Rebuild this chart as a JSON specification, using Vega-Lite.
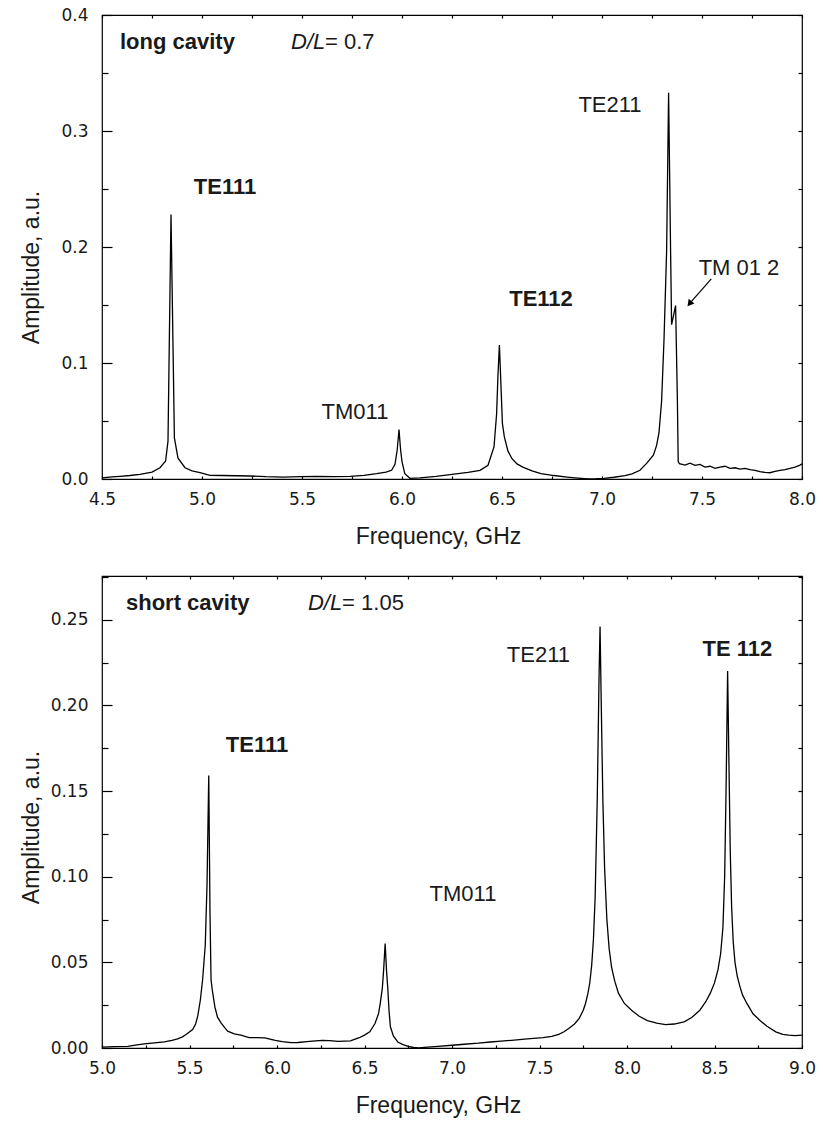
{
  "$schema": "https://vega.github.io/schema/vega-lite/v6.json",
  "padding": {"left": 19, "top": 5, "right": 5, "bottom": 5},
  "background": "white",
  "spacing": 18,
  "datasets": {
    "top": [
      {"f":4.50,"a":0.001},{"f":4.55,"a":0.0018},{"f":4.59,"a":0.0023},{"f":4.64,"a":0.003},{"f":4.69,"a":0.004},{"f":4.75,"a":0.006},{"f":4.79,"a":0.0097},{"f":4.818,"a":0.0155},{"f":4.83,"a":0.0326},{"f":4.845,"a":0.228},{"f":4.862,"a":0.0355},{"f":4.88,"a":0.018},{"f":4.915,"a":0.0097},{"f":4.95,"a":0.007},{"f":4.99,"a":0.0054},{"f":5.04,"a":0.0031},{"f":5.10,"a":0.003},{"f":5.17,"a":0.0028},{"f":5.24,"a":0.0026},{"f":5.32,"a":0.002},{"f":5.405,"a":0.0017},{"f":5.49,"a":0.002},{"f":5.573,"a":0.0023},{"f":5.66,"a":0.0021},{"f":5.74,"a":0.0023},{"f":5.81,"a":0.0032},{"f":5.873,"a":0.0046},{"f":5.92,"a":0.006},{"f":5.948,"a":0.0075},{"f":5.965,"a":0.0126},{"f":5.976,"a":0.025},{"f":5.985,"a":0.0427},{"f":5.993,"a":0.025},{"f":6.0,"a":0.015},{"f":6.014,"a":0.0046},{"f":6.04,"a":0.0006},{"f":6.09,"a":0.001},{"f":6.17,"a":0.0023},{"f":6.25,"a":0.004},{"f":6.33,"a":0.0057},{"f":6.39,"a":0.0075},{"f":6.43,"a":0.0118},{"f":6.46,"a":0.0276},{"f":6.473,"a":0.056},{"f":6.48,"a":0.09},{"f":6.487,"a":0.1155},{"f":6.495,"a":0.08},{"f":6.502,"a":0.048},{"f":6.512,"a":0.036},{"f":6.53,"a":0.024},{"f":6.55,"a":0.0175},{"f":6.575,"a":0.013},{"f":6.604,"a":0.0103},{"f":6.65,"a":0.007},{"f":6.695,"a":0.0046},{"f":6.76,"a":0.003},{"f":6.826,"a":0.0017},{"f":6.88,"a":0.0008},{"f":6.93,"a":0.0},{"f":6.97,"a":0.0002},{"f":7.01,"a":0.0006},{"f":7.06,"a":0.0015},{"f":7.115,"a":0.003},{"f":7.15,"a":0.0045},{"f":7.19,"a":0.0075},{"f":7.223,"a":0.0135},{"f":7.257,"a":0.0206},{"f":7.273,"a":0.029},{"f":7.285,"a":0.04},{"f":7.298,"a":0.067},{"f":7.31,"a":0.12},{"f":7.323,"a":0.196},{"f":7.333,"a":0.333},{"f":7.343,"a":0.196},{"f":7.348,"a":0.133},{"f":7.368,"a":0.1495},{"f":7.377,"a":0.067},{"f":7.381,"a":0.015},{"f":7.387,"a":0.0132},{"f":7.415,"a":0.012},{"f":7.44,"a":0.0137},{"f":7.465,"a":0.0117},{"f":7.49,"a":0.0126},{"f":7.515,"a":0.0103},{"f":7.54,"a":0.011},{"f":7.565,"a":0.0092},{"f":7.59,"a":0.0103},{"f":7.615,"a":0.011},{"f":7.64,"a":0.0092},{"f":7.665,"a":0.0097},{"f":7.69,"a":0.0086},{"f":7.715,"a":0.0092},{"f":7.74,"a":0.008},{"f":7.765,"a":0.0074},{"f":7.79,"a":0.0063},{"f":7.815,"a":0.0057},{"f":7.84,"a":0.0054},{"f":7.865,"a":0.0066},{"f":7.89,"a":0.0074},{"f":7.915,"a":0.008},{"f":7.94,"a":0.0092},{"f":7.965,"a":0.0103},{"f":7.99,"a":0.012},{"f":8.0,"a":0.013}
    ],
    "bottom": [
      {"f":5.0,"a":0.0005},{"f":5.07,"a":0.0008},{"f":5.147,"a":0.001},{"f":5.2,"a":0.0018},{"f":5.242,"a":0.0024},{"f":5.3,"a":0.003},{"f":5.356,"a":0.0036},{"f":5.4,"a":0.0045},{"f":5.432,"a":0.0053},{"f":5.46,"a":0.0065},{"f":5.48,"a":0.0079},{"f":5.518,"a":0.0108},{"f":5.535,"a":0.014},{"f":5.547,"a":0.0186},{"f":5.562,"a":0.028},{"f":5.575,"a":0.04},{"f":5.59,"a":0.06},{"f":5.60,"a":0.095},{"f":5.61,"a":0.159},{"f":5.617,"a":0.08},{"f":5.623,"a":0.04},{"f":5.63,"a":0.034},{"f":5.645,"a":0.024},{"f":5.66,"a":0.018},{"f":5.68,"a":0.0147},{"f":5.70,"a":0.012},{"f":5.718,"a":0.0098},{"f":5.756,"a":0.0083},{"f":5.794,"a":0.0075},{"f":5.84,"a":0.006},{"f":5.88,"a":0.006},{"f":5.93,"a":0.0059},{"f":5.96,"a":0.0052},{"f":5.99,"a":0.0045},{"f":6.03,"a":0.0037},{"f":6.08,"a":0.0031},{"f":6.12,"a":0.0032},{"f":6.17,"a":0.0037},{"f":6.22,"a":0.0042},{"f":6.26,"a":0.0045},{"f":6.30,"a":0.0043},{"f":6.35,"a":0.0039},{"f":6.42,"a":0.0041},{"f":6.47,"a":0.006},{"f":6.50,"a":0.0075},{"f":6.53,"a":0.0094},{"f":6.56,"a":0.0143},{"f":6.58,"a":0.02},{"f":6.59,"a":0.026},{"f":6.602,"a":0.035},{"f":6.609,"a":0.045},{"f":6.618,"a":0.061},{"f":6.626,"a":0.045},{"f":6.633,"a":0.035},{"f":6.64,"a":0.022},{"f":6.648,"a":0.0124},{"f":6.665,"a":0.007},{"f":6.69,"a":0.0035},{"f":6.72,"a":0.002},{"f":6.75,"a":0.001},{"f":6.78,"a":0.0003},{"f":6.81,"a":0.0},{"f":6.86,"a":0.0005},{"f":6.92,"a":0.001},{"f":7.0,"a":0.0016},{"f":7.07,"a":0.0022},{"f":7.15,"a":0.0028},{"f":7.22,"a":0.0035},{"f":7.28,"a":0.004},{"f":7.34,"a":0.0045},{"f":7.43,"a":0.0053},{"f":7.52,"a":0.006},{"f":7.57,"a":0.0068},{"f":7.61,"a":0.008},{"f":7.64,"a":0.0095},{"f":7.667,"a":0.0114},{"f":7.70,"a":0.014},{"f":7.727,"a":0.0173},{"f":7.75,"a":0.022},{"f":7.763,"a":0.026},{"f":7.777,"a":0.032},{"f":7.787,"a":0.0378},{"f":7.798,"a":0.048},{"f":7.808,"a":0.063},{"f":7.818,"a":0.088},{"f":7.83,"a":0.145},{"f":7.84,"a":0.215},{"f":7.846,"a":0.246},{"f":7.853,"a":0.2},{"f":7.862,"a":0.145},{"f":7.872,"a":0.105},{"f":7.885,"a":0.075},{"f":7.898,"a":0.058},{"f":7.912,"a":0.047},{"f":7.93,"a":0.039},{"f":7.951,"a":0.032},{"f":7.985,"a":0.026},{"f":8.026,"a":0.022},{"f":8.07,"a":0.0185},{"f":8.116,"a":0.016},{"f":8.17,"a":0.0145},{"f":8.22,"a":0.0137},{"f":8.27,"a":0.014},{"f":8.326,"a":0.0153},{"f":8.37,"a":0.0178},{"f":8.416,"a":0.022},{"f":8.45,"a":0.027},{"f":8.476,"a":0.032},{"f":8.50,"a":0.038},{"f":8.52,"a":0.0457},{"f":8.535,"a":0.055},{"f":8.548,"a":0.07},{"f":8.558,"a":0.1},{"f":8.566,"a":0.15},{"f":8.575,"a":0.22},{"f":8.582,"a":0.17},{"f":8.59,"a":0.115},{"f":8.598,"a":0.082},{"f":8.607,"a":0.062},{"f":8.617,"a":0.05},{"f":8.63,"a":0.042},{"f":8.645,"a":0.036},{"f":8.66,"a":0.031},{"f":8.685,"a":0.026},{"f":8.72,"a":0.02},{"f":8.76,"a":0.016},{"f":8.80,"a":0.0127},{"f":8.85,"a":0.0094},{"f":8.89,"a":0.008},{"f":8.925,"a":0.0075},{"f":8.96,"a":0.0072},{"f":9.0,"a":0.0075}
    ],
    "topText": [
      {"x":4.59,"y":0.377,"t":"long cavity","k":"bl"},
      {"x":5.445,"y":0.377,"t":"D/L","k":"il"},
      {"x":5.615,"y":0.377,"t":"= 0.7","k":"nl"},
      {"x":5.115,"y":0.252,"t":"TE111","k":"bc"},
      {"x":6.695,"y":0.1555,"t":"TE112","k":"bc"},
      {"x":5.765,"y":0.058,"t":"TM011","k":"nc"},
      {"x":7.04,"y":0.322,"t":"TE211","k":"nc"},
      {"x":7.685,"y":0.182,"t":"TM 01 2","k":"nc"}
    ],
    "bottomText": [
      {"x":5.137,"y":0.26,"t":"short cavity","k":"bl"},
      {"x":6.177,"y":0.26,"t":"D/L","k":"il"},
      {"x":6.372,"y":0.26,"t":"= 1.05","k":"nl"},
      {"x":5.886,"y":0.177,"t":"TE111","k":"bc"},
      {"x":8.631,"y":0.233,"t":"TE 112","k":"bc"},
      {"x":7.063,"y":0.0896,"t":"TM011","k":"nc"},
      {"x":7.494,"y":0.2296,"t":"TE211","k":"nc"}
    ],
    "arrow": [
      {"x":7.5465,"y":0.1725,"x2":7.441,"y2":0.1519}
    ]
  },
  "vconcat": [
    {
      "width": 700,
      "height": 464,
      "layer": [
        {
          "data": {"name": "top"},
          "mark": {"type": "line", "color": "black", "strokeWidth": 1.3},
          "encoding": {
            "x": {"field": "f", "type": "quantitative", "scale": {"domain": [4.5, 8.0], "nice": false, "zero": false},
              "axis": {"orient": "bottom", "values": [4.5,4.75,5,5.25,5.5,5.75,6,6.25,6.5,6.75,7,7.25,7.5,7.75,8],
                "labelExpr": "abs(datum.value*2-round(datum.value*2))<0.01 ? format(datum.value,'.1f') : ''",
                "tickSize": -3, "labelPadding": 15, "title": "Frequency, GHz",
                "titleX": 336, "titleY": 57, "titleAlign": "center", "titleBaseline": "middle"}},
            "y": {"field": "a", "type": "quantitative", "scale": {"domain": [0, 0.4], "nice": false},
              "axis": {"orient": "left", "values": [0,0.05,0.1,0.15,0.2,0.25,0.3,0.35,0.4],
                "labelExpr": "abs(datum.value*10-round(datum.value*10))<0.001 ? format(datum.value,'.1f') : ''",
                "tickSize": {"condition": {"test": "abs(datum.value*10-round(datum.value*10))<0.001", "value": -10}, "value": -6},
                "labelPadding": 24, "title": "Amplitude, a.u.",
                "titleX": -71, "titleY": 252, "titleAlign": "center", "titleBaseline": "middle", "titleAngle": -90}}
          }
        },
        {
          "data": {"name": "arrow"},
          "mark": {"type": "rule", "color": "black", "strokeWidth": 1.2},
          "encoding": {
            "x": {"field": "x", "type": "quantitative", "scale": {"domain": [4.5, 8.0], "nice": false, "zero": false}, "axis": null},
            "y": {"field": "y", "type": "quantitative", "scale": {"domain": [0, 0.4], "nice": false}, "axis": null},
            "x2": {"field": "x2"},
            "y2": {"field": "y2"}
          }
        },
        {
          "data": {"name": "arrow"},
          "mark": {"type": "point", "shape": "triangle", "angle": 218.7, "size": 55, "filled": true, "color": "black", "opacity": 1},
          "encoding": {
            "x": {"field": "x2", "type": "quantitative", "scale": {"domain": [4.5, 8.0], "nice": false, "zero": false}, "axis": null},
            "y": {"field": "y2", "type": "quantitative", "scale": {"domain": [0, 0.4], "nice": false}, "axis": null}
          }
        },
        {
          "data": {"name": "topText"},
          "transform": [{"filter": "datum.k == 'bl'"}],
          "mark": {"type": "text", "fontWeight": "bold", "align": "left"},
          "encoding": {
            "x": {"field": "x", "type": "quantitative", "scale": {"domain": [4.5, 8.0], "nice": false, "zero": false},
              "axis": {"orient": "top", "values": [4.5,4.75,5,5.25,5.5,5.75,6,6.25,6.5,6.75,7,7.25,7.5,7.75,8], "labels": false, "tickSize": -3, "title": null}},
            "y": {"field": "y", "type": "quantitative", "scale": {"domain": [0, 0.4], "nice": false},
              "axis": {"orient": "right", "values": [0,0.05,0.1,0.15,0.2,0.25,0.3,0.35,0.4], "labels": false, "tickSize": -4, "title": null}},
            "text": {"field": "t"}
          }
        },
        {
          "data": {"name": "topText"},
          "transform": [{"filter": "datum.k == 'bc'"}],
          "mark": {"type": "text", "fontWeight": "bold", "align": "center"},
          "encoding": {
            "x": {"field": "x", "type": "quantitative", "scale": {"domain": [4.5, 8.0], "nice": false, "zero": false}, "axis": null},
            "y": {"field": "y", "type": "quantitative", "scale": {"domain": [0, 0.4], "nice": false}, "axis": null},
            "text": {"field": "t"}
          }
        },
        {
          "data": {"name": "topText"},
          "transform": [{"filter": "datum.k == 'nc'"}],
          "mark": {"type": "text", "align": "center"},
          "encoding": {
            "x": {"field": "x", "type": "quantitative", "scale": {"domain": [4.5, 8.0], "nice": false, "zero": false}, "axis": null},
            "y": {"field": "y", "type": "quantitative", "scale": {"domain": [0, 0.4], "nice": false}, "axis": null},
            "text": {"field": "t"}
          }
        },
        {
          "data": {"name": "topText"},
          "transform": [{"filter": "datum.k == 'nl'"}],
          "mark": {"type": "text", "align": "left"},
          "encoding": {
            "x": {"field": "x", "type": "quantitative", "scale": {"domain": [4.5, 8.0], "nice": false, "zero": false}, "axis": null},
            "y": {"field": "y", "type": "quantitative", "scale": {"domain": [0, 0.4], "nice": false}, "axis": null},
            "text": {"field": "t"}
          }
        },
        {
          "data": {"name": "topText"},
          "transform": [{"filter": "datum.k == 'il'"}],
          "mark": {"type": "text", "align": "left", "fontStyle": "italic"},
          "encoding": {
            "x": {"field": "x", "type": "quantitative", "scale": {"domain": [4.5, 8.0], "nice": false, "zero": false}, "axis": null},
            "y": {"field": "y", "type": "quantitative", "scale": {"domain": [0, 0.4], "nice": false}, "axis": null},
            "text": {"field": "t"}
          }
        }
      ]
    },
    {
      "width": 700,
      "height": 472,
      "layer": [
        {
          "data": {"name": "bottom"},
          "mark": {"type": "line", "color": "black", "strokeWidth": 1.3},
          "encoding": {
            "x": {"field": "f", "type": "quantitative", "scale": {"domain": [5.0, 9.0], "nice": false, "zero": false},
              "axis": {"orient": "bottom", "values": [5,5.25,5.5,5.75,6,6.25,6.5,6.75,7,7.25,7.5,7.75,8,8.25,8.5,8.75,9],
                "labelExpr": "abs(datum.value*2-round(datum.value*2))<0.01 ? format(datum.value,'.1f') : ''",
                "tickSize": -3, "labelPadding": 15, "title": "Frequency, GHz",
                "titleX": 336, "titleY": 57, "titleAlign": "center", "titleBaseline": "middle"}},
            "y": {"field": "a", "type": "quantitative", "scale": {"domain": [0, 0.2755], "nice": false},
              "axis": {"orient": "left", "values": [0,0.025,0.05,0.075,0.1,0.125,0.15,0.175,0.2,0.225,0.25,0.275],
                "labelExpr": "abs(datum.value*20-round(datum.value*20))<0.001 ? format(datum.value,'.2f') : ''",
                "tickSize": {"condition": {"test": "abs(datum.value*20-round(datum.value*20))<0.001", "value": -10}, "value": -6},
                "labelPadding": 24, "title": "Amplitude, a.u.",
                "titleX": -71, "titleY": 251, "titleAlign": "center", "titleBaseline": "middle", "titleAngle": -90}}
          }
        },
        {
          "data": {"name": "bottomText"},
          "transform": [{"filter": "datum.k == 'bl'"}],
          "mark": {"type": "text", "fontWeight": "bold", "align": "left"},
          "encoding": {
            "x": {"field": "x", "type": "quantitative", "scale": {"domain": [5.0, 9.0], "nice": false, "zero": false},
              "axis": {"orient": "top", "values": [5,5.25,5.5,5.75,6,6.25,6.5,6.75,7,7.25,7.5,7.75,8,8.25,8.5,8.75,9], "labels": false, "tickSize": -3, "title": null}},
            "y": {"field": "y", "type": "quantitative", "scale": {"domain": [0, 0.2755], "nice": false},
              "axis": {"orient": "right", "values": [0,0.025,0.05,0.075,0.1,0.125,0.15,0.175,0.2,0.225,0.25,0.275], "labels": false, "tickSize": -4, "title": null}},
            "text": {"field": "t"}
          }
        },
        {
          "data": {"name": "bottomText"},
          "transform": [{"filter": "datum.k == 'bc'"}],
          "mark": {"type": "text", "fontWeight": "bold", "align": "center"},
          "encoding": {
            "x": {"field": "x", "type": "quantitative", "scale": {"domain": [5.0, 9.0], "nice": false, "zero": false}, "axis": null},
            "y": {"field": "y", "type": "quantitative", "scale": {"domain": [0, 0.2755], "nice": false}, "axis": null},
            "text": {"field": "t"}
          }
        },
        {
          "data": {"name": "bottomText"},
          "transform": [{"filter": "datum.k == 'nc'"}],
          "mark": {"type": "text", "align": "center"},
          "encoding": {
            "x": {"field": "x", "type": "quantitative", "scale": {"domain": [5.0, 9.0], "nice": false, "zero": false}, "axis": null},
            "y": {"field": "y", "type": "quantitative", "scale": {"domain": [0, 0.2755], "nice": false}, "axis": null},
            "text": {"field": "t"}
          }
        },
        {
          "data": {"name": "bottomText"},
          "transform": [{"filter": "datum.k == 'nl'"}],
          "mark": {"type": "text", "align": "left"},
          "encoding": {
            "x": {"field": "x", "type": "quantitative", "scale": {"domain": [5.0, 9.0], "nice": false, "zero": false}, "axis": null},
            "y": {"field": "y", "type": "quantitative", "scale": {"domain": [0, 0.2755], "nice": false}, "axis": null},
            "text": {"field": "t"}
          }
        },
        {
          "data": {"name": "bottomText"},
          "transform": [{"filter": "datum.k == 'il'"}],
          "mark": {"type": "text", "align": "left", "fontStyle": "italic"},
          "encoding": {
            "x": {"field": "x", "type": "quantitative", "scale": {"domain": [5.0, 9.0], "nice": false, "zero": false}, "axis": null},
            "y": {"field": "y", "type": "quantitative", "scale": {"domain": [0, 0.2755], "nice": false}, "axis": null},
            "text": {"field": "t"}
          }
        }
      ]
    }
  ],
  "config": {
    "view": {"stroke": "black", "strokeWidth": 1.2},
    "axis": {"domain": false, "grid": false, "tickColor": "black", "tickWidth": 1.2,
      "labelFont": "DejaVu Sans", "labelFontSize": 17, "labelColor": "#1a1a1a", "labelFlush": false, "labelOverlap": false,
      "titleFont": "Liberation Sans", "titleFontSize": 23, "titleFontWeight": "normal", "titleColor": "#1a1a1a"},
    "text": {"font": "Liberation Sans", "fontSize": 22, "color": "#1a1a1a"}
  }
}
